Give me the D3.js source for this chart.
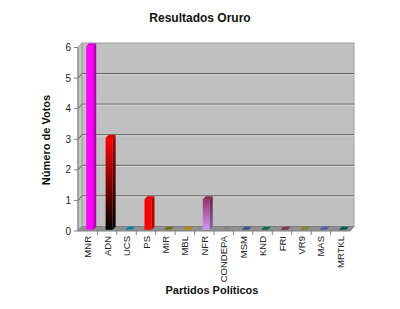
<!DOCTYPE html>
<html>
<head>
<meta charset="utf-8">
<script src="https://cdn.jsdelivr.net/npm/d3@7"></script>
<style>
  body { margin: 0; background: #fff; }
  text { font-family: "Liberation Sans", Arial, sans-serif; }
</style>
</head>
<body>
<div class="chart"></div>
<script>
var svgWidth = 400;
var svgHeight = 309;

// data
var partidos = ["MNR", "ADN", "UCS", "PS", "MIR", "MBL", "NFR", "CONDEPA", "MSM", "KND", "FRI", "VR9", "MAS", "MRTKL"];
var votos = [6, 3, 0, 1, 0, 0, 1, 0, 0, 0, 0, 0, 0, 0];
var colores = ["#ff00ff", "#ff0000", "#0099cc", "#ff0000", "#808000", "#cc9900", "#993366", "#999999", "#336699", "#008060", "#993366", "#999933", "#6666cc", "#006666"];
var yTicks = [0, 1, 2, 3, 4, 5, 6];

// front plane of the plot
var x0 = 78, x1 = 350;
var yBottom = 231, yTop = 47.5;
// depth offset
var dx = 4, dy = -4.5;

var svg = d3.select(".chart")
  .append("svg")
  .attr("width", svgWidth)
  .attr("height", svgHeight);

var xScale = d3.scaleBand()
  .domain(partidos)
  .range([x0, x1]);

var yScale = d3.scaleLinear()
  .domain([0, 6])
  .range([yBottom, yTop]);

// gradients
var defs = svg.append("defs");
function vGrad(id, top, bottom) {
  var g = defs.append("linearGradient").attr("id", id)
    .attr("x1", 0).attr("y1", 0).attr("x2", 0).attr("y2", 1);
  g.append("stop").attr("offset", "0%").attr("stop-color", top);
  g.append("stop").attr("offset", "100%").attr("stop-color", bottom);
}
vGrad("gADN", "#ff0000", "#000000");
vGrad("gADNs", "#aa0000", "#000000");
vGrad("gNFR", "#993366", "#cc99ff");
vGrad("gNFRs", "#662244", "#8866aa");

var fronts = colores.slice();
fronts[1] = "url(#gADN)";
fronts[6] = "url(#gNFR)";
var sides = colores.map(c => d3.color(c).darker(1).formatHex());
sides[1] = "url(#gADNs)";
sides[6] = "url(#gNFRs)";
var tops = colores.map(c => d3.color(c).darker(0.4).formatHex());

// back wall
svg.append("rect")
  .attr("x", x0 + dx)
  .attr("y", yTop + dy)
  .attr("width", x1 - x0)
  .attr("height", yBottom - yTop)
  .attr("fill", "#c0c0c0")
  .attr("stroke", "#a0a0a0");

// left wall
svg.append("path")
  .attr("d", `M${x0},${yBottom}L${x0},${yTop}L${x0 + dx},${yTop + dy}L${x0 + dx},${yBottom + dy}Z`)
  .attr("fill", "#c8c8c8")
  .attr("stroke", "#a0a0a0");

// gridlines on back wall and left wall
yTicks.slice(1, -1).forEach(function (t) {
  var y = yScale(t);
  svg.append("line")
    .attr("x1", x0 + dx).attr("x2", x1 + dx)
    .attr("y1", y + dy).attr("y2", y + dy)
    .attr("stroke", "#555")
    .attr("stroke-width", 1);
  svg.append("line")
    .attr("x1", x0 + dx).attr("x2", x1 + dx)
    .attr("y1", y + dy + 1).attr("y2", y + dy + 1)
    .attr("stroke", "#d8d8d8")
    .attr("stroke-width", 1);
  svg.append("line")
    .attr("x1", x0).attr("x2", x0 + dx)
    .attr("y1", y).attr("y2", y + dy)
    .attr("stroke", "#555");
});

// floor
svg.append("path")
  .attr("d", `M${x0},${yBottom}L${x1},${yBottom}L${x1 + dx},${yBottom + dy}L${x0 + dx},${yBottom + dy}Z`)
  .attr("fill", "#909090")
  .attr("stroke", "#808080");

// bars
var bw = 7, bd = 3;
var bars = svg.append("g").selectAll("g")
  .data(partidos)
  .enter()
  .append("g");

bars.each(function (p, i) {
  var g = d3.select(this);
  var cx = xScale(p) + xScale.bandwidth() / 2 + dx / 2;
  var xl = cx - bw / 2;
  var yb = yBottom + dy / 2 + 1;
  var yt = yScale(votos[i]) + dy / 2 + 1;
  // front face
  g.append("rect")
    .attr("x", xl).attr("y", yt)
    .attr("width", bw).attr("height", Math.max(yb - yt, 0.001))
    .attr("fill", fronts[i]);
  // side face
  g.append("path")
    .attr("d", `M${xl + bw},${yb}L${xl + bw},${yt}L${xl + bw + bd},${yt - bd}L${xl + bw + bd},${yb - bd}Z`)
    .attr("fill", sides[i]);
  // top face
  g.append("path")
    .attr("d", `M${xl},${yt}L${xl + bw},${yt}L${xl + bw + bd},${yt - bd}L${xl + bd},${yt - bd}Z`)
    .attr("fill", tops[i]);
});

// y axis
svg.append("line")
  .attr("x1", x0).attr("x2", x0)
  .attr("y1", yBottom).attr("y2", yTop)
  .attr("stroke", "#808080");

var yAxisG = svg.append("g");
yTicks.forEach(function (t) {
  yAxisG.append("line")
    .attr("x1", x0 - 4).attr("x2", x0)
    .attr("y1", yScale(t)).attr("y2", yScale(t))
    .attr("stroke", "#808080");
  yAxisG.append("text")
    .attr("x", x0 - 7)
    .attr("y", yScale(t) + 3.5)
    .attr("text-anchor", "end")
    .attr("font-size", "10px")
    .attr("fill", "#222")
    .text(t);
});

// x axis ticks
partidos.forEach(function (p, i) {
  var x = xScale(p);
  if (i > 0) {
    svg.append("line")
      .attr("x1", x).attr("x2", x)
      .attr("y1", yBottom).attr("y2", yBottom + 4)
      .attr("stroke", "#808080");
  }
});

// category labels
svg.append("g").selectAll("text")
  .data(partidos)
  .enter()
  .append("text")
  .attr("transform", d => `translate(${xScale(d) + xScale.bandwidth() / 2 + 3.5},${236}) rotate(-90)`)
  .attr("text-anchor", "end")
  .attr("font-size", "9.5px")
  .attr("fill", "#222")
  .text(d => d);

// title
svg.append("text")
  .attr("x", 200)
  .attr("y", 22)
  .attr("text-anchor", "middle")
  .attr("font-size", "12px")
  .attr("font-weight", "bold")
  .attr("fill", "#111")
  .text("Resultados Oruro");

// axis titles
svg.append("text")
  .attr("transform", "translate(50,140) rotate(-90)")
  .attr("text-anchor", "middle")
  .attr("font-size", "11px")
  .attr("font-weight", "bold")
  .attr("fill", "#111")
  .text("Número de Votos");

svg.append("text")
  .attr("x", 212)
  .attr("y", 294)
  .attr("text-anchor", "middle")
  .attr("font-size", "11px")
  .attr("font-weight", "bold")
  .attr("fill", "#111")
  .text("Partidos Políticos");
</script>
</body>
</html>
